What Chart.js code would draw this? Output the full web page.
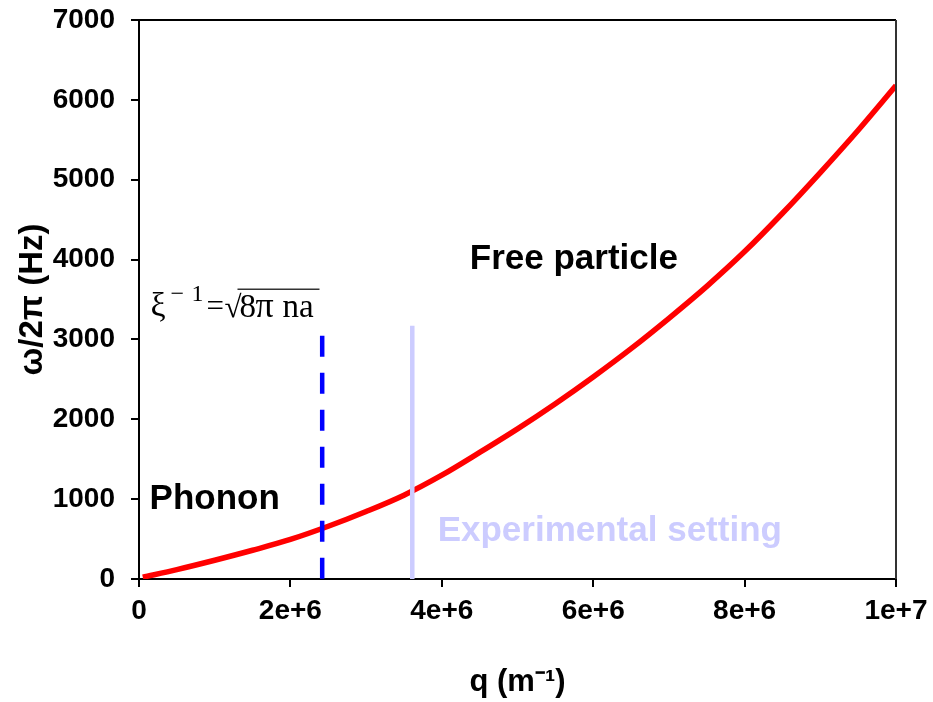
<!DOCTYPE html>
<html>
<head>
<meta charset="utf-8">
<script src="https://cdn.jsdelivr.net/npm/chart.js@4/dist/chart.umd.min.js"></script>
<style>
  html, body { margin: 0; padding: 0; background: #ffffff; }
  #wrap { width: 933px; height: 702px; }
</style>
</head>
<body>
<div id="wrap"><canvas id="c" width="933" height="702"></canvas></div>
<script>
// ---- data ----
const qValues = [5e4, 5e5, 1e6, 1.5e6, 2e6, 2.5e6, 3e6, 3.5e6, 4e6, 4.5e6, 5e6,
                 5.5e6, 6e6, 6.5e6, 7e6, 7.5e6, 8e6, 8.5e6, 9e6, 9.5e6, 1e7];
const omegaValues = [22, 118, 235, 360, 495, 660, 845, 1050, 1300, 1585, 1880,
                     2195, 2530, 2885, 3265, 3665, 4100, 4580, 5090, 5620, 6180];

const healingQ = 2.42e6;       // xi^-1 marker (dashed blue)
const healingTop = 3045;
const experimentQ = 3.61e6;    // experimental setting marker (light line)
const experimentTop = 3170;

const xTickLabels = ['0', '2e+6', '4e+6', '6e+6', '8e+6', '1e+7'];
const yTickLabels = ['0', '1000', '2000', '3000', '4000', '5000', '6000', '7000'];

const xTitle = 'q (m\u207B\u00B9)';
const yTitle = '\u03C9/2\u03C0 (Hz)';

const labelFree = 'Free particle';
const labelPhonon = 'Phonon';
const labelExperiment = 'Experimental setting';

// ---- chart ----
const SANS = "'Liberation Sans', Arial, Helvetica, sans-serif";
const SERIF = "'Liberation Serif', 'Times New Roman', serif";

const curvePoints = qValues.map((q, i) => ({ x: q, y: omegaValues[i] }));

const annotationPlugin = {
  id: 'annotations',
  afterDraw(chart) {
    const { ctx, chartArea: a, scales: { x, y } } = chart;
    ctx.save();
    // frame around plot area
    ctx.strokeStyle = '#000000';
    ctx.lineWidth = 2;
    ctx.beginPath();
    ctx.moveTo(a.left, a.top);
    ctx.lineTo(a.right, a.top);
    ctx.stroke();
    ctx.strokeStyle = '#333333';
    ctx.beginPath();
    ctx.moveTo(a.right, a.top);
    ctx.lineTo(a.right, a.bottom);
    ctx.stroke();

    ctx.textBaseline = 'alphabetic';
    ctx.textAlign = 'left';
    // region labels
    ctx.fillStyle = '#000000';
    ctx.font = 'bold 35px ' + SANS;
    ctx.fillText(labelFree, x.getPixelForValue(4.37e6), y.getPixelForValue(3885));
    ctx.fillText(labelPhonon, x.getPixelForValue(0.14e6), y.getPixelForValue(877));
    ctx.fillStyle = 'rgb(204,204,255)';
    ctx.fillText(labelExperiment, x.getPixelForValue(3.945e6), y.getPixelForValue(476));

    // formula  xi^-1 = sqrt(8 pi n a)
    const bx = x.getPixelForValue(0.165e6);
    const by = y.getPixelForValue(3290);
    ctx.fillStyle = '#000000';
    ctx.font = '34px ' + SERIF;
    ctx.fillText('\u03BE', bx - 1, by);
    ctx.font = '24px ' + SERIF;
    ctx.fillText('\u2212', bx + 19, by - 15);
    ctx.fillText('1', bx + 40, by - 15);
    ctx.font = '31px ' + SERIF;
    ctx.fillText('=', bx + 55, by);
    ctx.font = '31px ' + SERIF;
    ctx.fillText('\u221A', bx + 73, by + 1);
    ctx.font = '33px ' + SERIF;
    ctx.fillText('8', bx + 88, by + 1);
    ctx.font = '36px ' + SERIF;
    ctx.fillText('\u03C0', bx + 104, by + 1);
    ctx.font = '33px ' + SERIF;
    ctx.fillText('na', bx + 131, by + 1);
    ctx.lineWidth = 1.5;
    ctx.beginPath();
    ctx.moveTo(bx + 86, by - 27);
    ctx.lineTo(bx + 168, by - 27);
    ctx.stroke();
    ctx.restore();
  }
};

new Chart(document.getElementById('c'), {
  type: 'line',
  data: {
    datasets: [
      {
        data: [{ x: healingQ, y: healingTop }, { x: healingQ, y: 0 }],
        borderColor: '#0000ff',
        borderWidth: 4.5,
        borderDash: [21, 16],
        pointRadius: 0,
        fill: false,
        order: 1
      },
      {
        data: [{ x: experimentQ, y: experimentTop }, { x: experimentQ, y: 0 }],
        borderColor: 'rgb(204,204,255)',
        borderWidth: 4.5,
        pointRadius: 0,
        fill: false,
        order: 2
      },
      {
        data: curvePoints,
        borderColor: '#ff0000',
        borderWidth: 5.5,
        pointRadius: 0,
        cubicInterpolationMode: 'monotone',
        fill: false,
        order: 3
      }
    ]
  },
  options: {
    responsive: false,
    devicePixelRatio: 1,
    animation: false,
    layout: { autoPadding: false, padding: { top: 20, right: 37, left: 0, bottom: 0 } },
    plugins: { legend: { display: false }, tooltip: { enabled: false } },
    scales: {
      x: {
        type: 'linear',
        min: 0,
        max: 1e7,
        afterFit(scale) {
          scale.height = 123;
          scale.paddingLeft = 0; scale.paddingRight = 0;
        },
        afterBuildTicks(scale) {
          scale.ticks = xTickLabels.map((_, i) => ({ value: i * 2e6 }));
        },
        ticks: {
          callback: (v, i) => xTickLabels[i],
          color: '#000000',
          font: { family: SANS, size: 28, weight: 'bold' },
          padding: 7,
          maxRotation: 0,
          autoSkip: false
        },
        grid: { drawOnChartArea: false, drawTicks: true, tickLength: 8, color: '#000000', lineWidth: 2 },
        border: { display: true, color: '#000000', width: 2 },
        title: {
          display: true,
          text: xTitle,
          color: '#000000',
          font: { family: SANS, size: 31, weight: 'bold' },
          padding: { top: 0, bottom: 1 }
        }
      },
      y: {
        type: 'linear',
        min: 0,
        max: 7000,
        afterFit(scale) {
          scale.width = 139;
          scale.paddingTop = 0; scale.paddingBottom = 0;
        },
        afterBuildTicks(scale) {
          scale.ticks = yTickLabels.map((_, i) => ({ value: i * 1000 }));
        },
        ticks: {
          callback: (v, i) => yTickLabels[i],
          color: '#000000',
          font: { family: SANS, size: 28, weight: 'bold' },
          padding: 16,
          autoSkip: false
        },
        grid: { drawOnChartArea: false, drawTicks: true, tickLength: 8, color: '#000000', lineWidth: 2 },
        border: { display: true, color: '#000000', width: 2 },
        title: {
          display: true,
          text: yTitle,
          color: '#000000',
          font: { family: SANS, size: 33, weight: 'bold' },
          padding: { top: 13, bottom: 0 }
        }
      }
    }
  },
  plugins: [annotationPlugin]
});
</script>
</body>
</html>
